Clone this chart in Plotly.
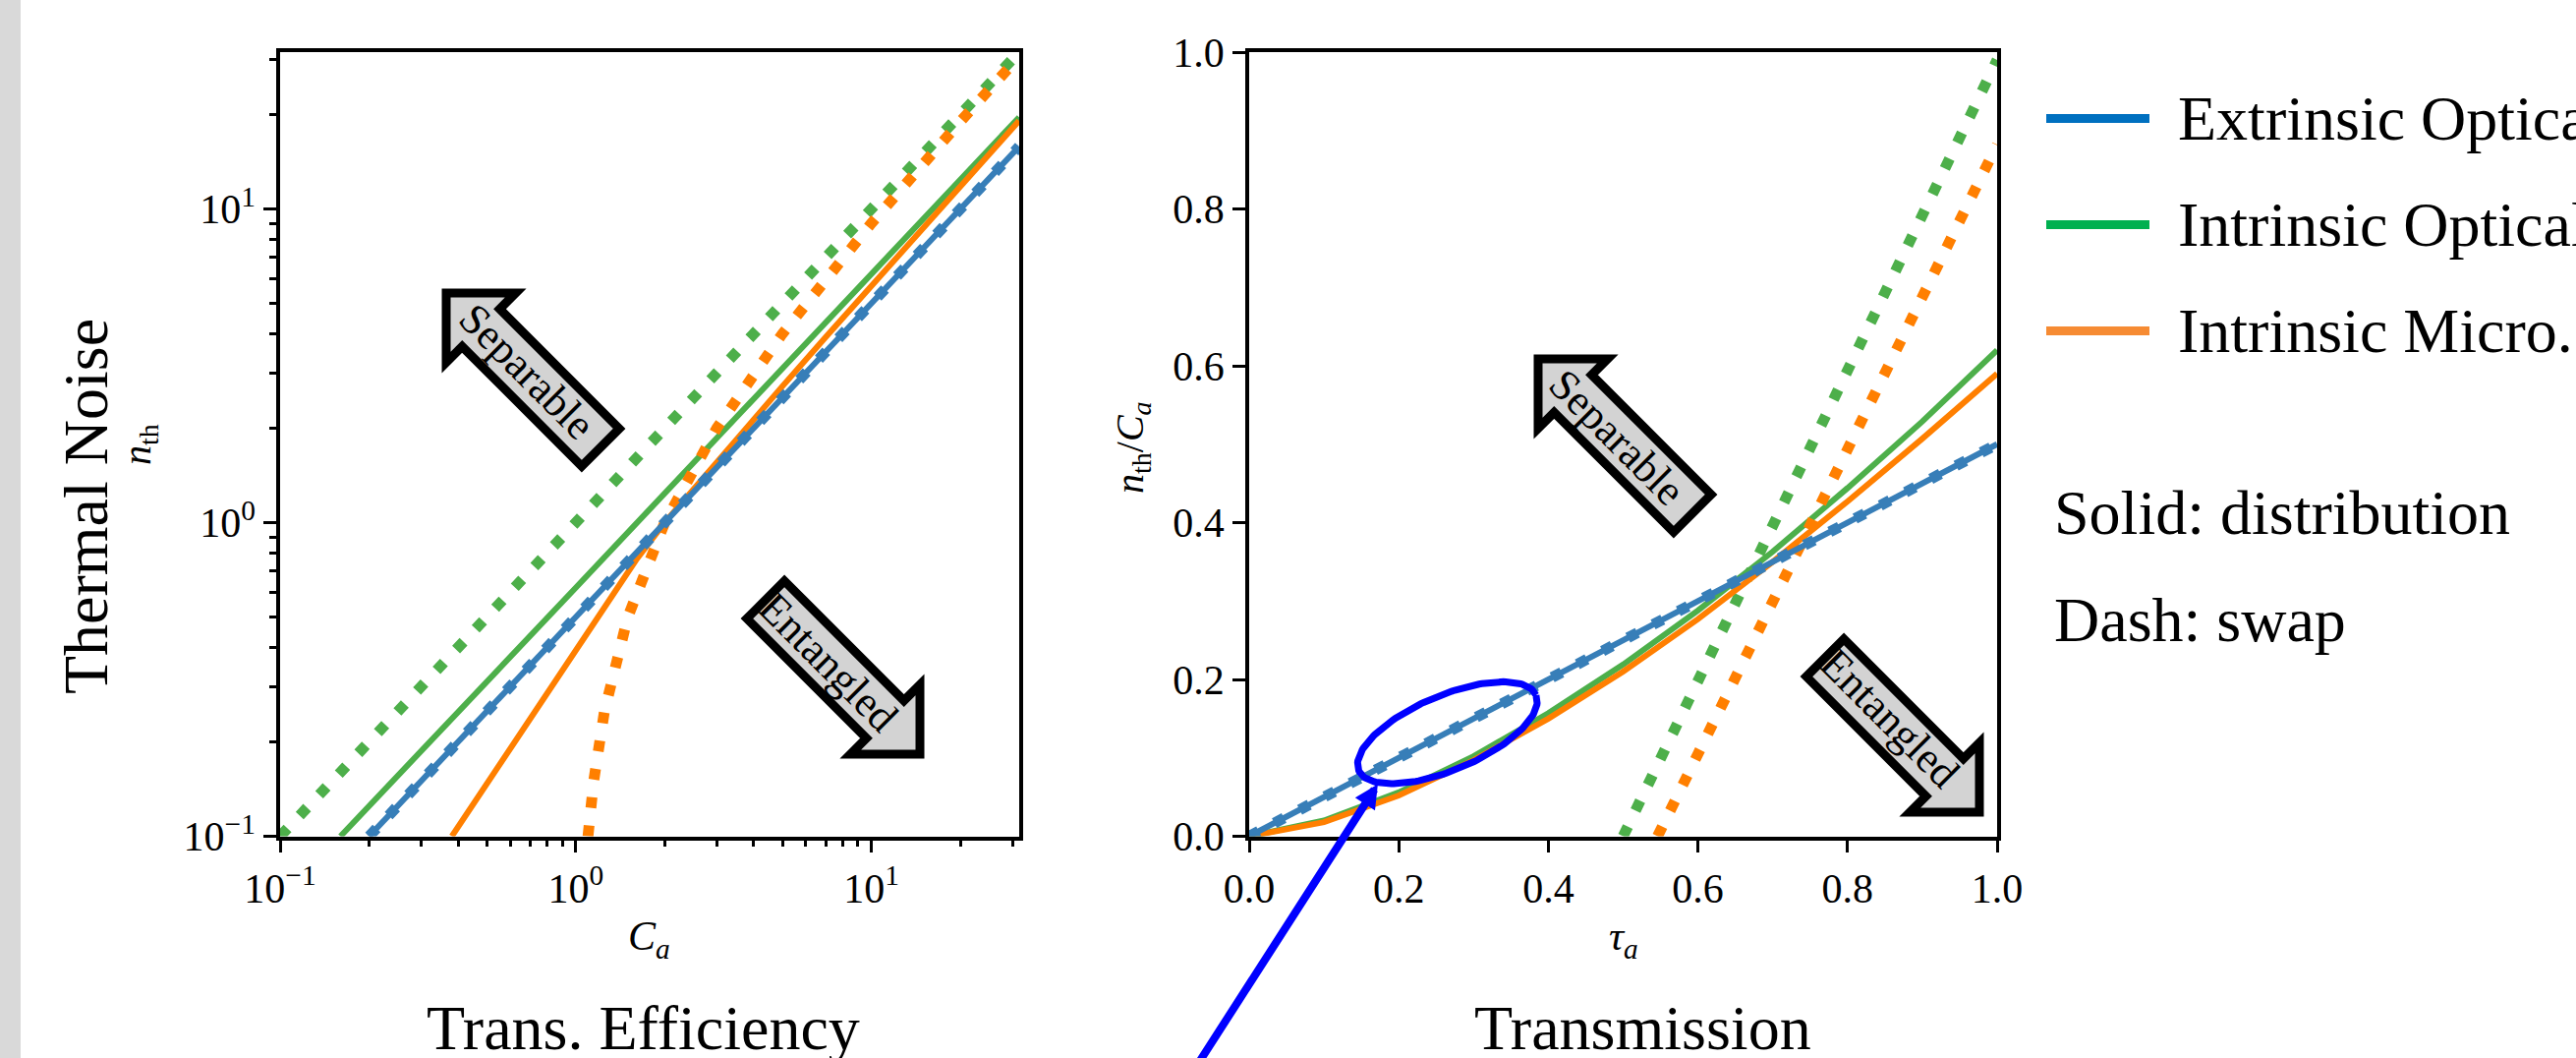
import math
import plotly.graph_objects as go

W, H = 2621, 1076

# ---------------- data: left panel (log-log) ----------------
ca_ext = [0.2, 0.5, 1.0, 2.0, 5.0, 10.0, 20.0, 31.6]
nth_ext = [0.1, 0.25, 0.5, 1.0, 2.5, 5.0, 10.0, 15.8]

ca_int_opt = [0.16, 0.3, 1.0, 3.0, 10.0, 31.6]
nth_int_opt = [0.1, 0.186, 0.62, 1.86, 6.2, 19.6]
ca_int_opt_swap = [0.1, 0.3, 1.0, 3.0, 10.0, 31.6]
nth_int_opt_swap = [0.1, 0.3, 1.0, 3.0, 10.0, 31.6]

ca_int_mic = [0.381, 0.5, 0.7, 1.0, 1.3, 1.6, 2.0, 2.5, 3.0, 4.0, 5.0, 7.0,
              10.0, 15.0, 20.0, 31.6]
nth_int_mic = [0.1, 0.147, 0.237, 0.39, 0.57, 0.76, 1.0, 1.28, 1.56, 2.14, 2.72,
               3.9, 5.7, 8.75, 11.8, 19.1]
ca_int_mic_swap = [1.1, 1.15, 1.25, 1.5, 2.0, 3.0, 5.0, 10.0, 20.0, 31.6]
nth_int_mic_swap = [0.1, 0.15, 0.25, 0.5, 1.0, 2.0, 4.0, 9.0, 19.0, 30.6]

# ---------------- data: right panel ----------------
tau = [0.0, 0.1, 0.2, 0.3, 0.4, 0.5, 0.6, 0.7, 0.8, 0.9, 1.0]
ratio_ext = [0.0, 0.05, 0.10, 0.15, 0.20, 0.25, 0.30, 0.35, 0.40, 0.45, 0.50]
ratio_int_opt = [0.0, 0.020, 0.056, 0.102, 0.157, 0.219, 0.288, 0.363, 0.444, 0.529, 0.62]
ratio_int_mic = [0.0, 0.018, 0.052, 0.097, 0.150, 0.210, 0.277, 0.350, 0.427, 0.507, 0.59]
tau_swap_opt = [0.5, 0.75, 1.0]
ratio_swap_opt = [0.0, 0.495, 0.99]
tau_swap_mic = [0.546, 0.75, 1.0]
ratio_swap_mic = [0.0, 0.396, 0.882]

# ---------------- ticks / labels ----------------
log_ticks = [0.1, 1, 10]
log_ticktext = ["10<sup>−1</sup>", "10<sup>0</sup>", "10<sup>1</sup>"]
log_minor = [0.2, 0.3, 0.4, 0.5, 0.6, 0.7, 0.8, 0.9,
             2, 3, 4, 5, 6, 7, 8, 9, 20, 30]
lin_ticks = [0.0, 0.2, 0.4, 0.6, 0.8, 1.0]
lin_ticktext = ["0.0", "0.2", "0.4", "0.6", "0.8", "1.0"]

legend_names = ["Extrinsic Optical", "Intrinsic Optical", "Intrinsic Micro."]
legend_colors = ["#0070C0", "#00B050", "#F68B33"]

C_BLUE, C_GREEN, C_ORANGE = "#377eb8", "#4daf4a", "#ff7f00"
SOLID_W = 6
DOT_W = 11
DOT = "11px,18px"

SERIF = "Liberation Serif"

# ---------------- layout geometry (pixels) ----------------
L_X0, L_X1 = 285, 1037
R_X0, R_X1 = 1271, 2032
Y_TOP, Y_BOT = 53, 850.5


def px2paper(x, y):
    return x / W, 1 - y / H


fig = go.Figure()


def add_line(x, y, color, width, dash, xa, ya):
    fig.add_trace(go.Scatter(x=x, y=y, mode="lines",
                             line=dict(color=color, width=width, dash=dash),
                             xaxis=xa, yaxis=ya, showlegend=False,
                             hoverinfo="skip"))


# left panel
add_line(ca_int_opt, nth_int_opt, C_GREEN, SOLID_W, "solid", "x", "y")
add_line(ca_int_opt_swap, nth_int_opt_swap, C_GREEN, DOT_W, DOT, "x", "y")
add_line(ca_int_mic, nth_int_mic, C_ORANGE, SOLID_W, "solid", "x", "y")
add_line(ca_int_mic_swap, nth_int_mic_swap, C_ORANGE, DOT_W, DOT, "x", "y")
add_line(ca_ext, nth_ext, C_BLUE, SOLID_W, "solid", "x", "y")
add_line(ca_ext, nth_ext, C_BLUE, DOT_W, DOT, "x", "y")

# right panel
add_line(tau, ratio_int_opt, C_GREEN, SOLID_W, "solid", "x2", "y2")
add_line(tau_swap_opt, ratio_swap_opt, C_GREEN, DOT_W, DOT, "x2", "y2")
add_line(tau, ratio_int_mic, C_ORANGE, SOLID_W, "solid", "x2", "y2")
add_line(tau_swap_mic, ratio_swap_mic, C_ORANGE, DOT_W, DOT, "x2", "y2")
add_line(tau, ratio_ext, C_BLUE, SOLID_W, "solid", "x2", "y2")
add_line(tau, ratio_ext, C_BLUE, DOT_W, DOT, "x2", "y2")

# highlight ellipse (right panel, centre in data coords, size in pixels)
ell_cx, ell_cy = 0.265, 0.132
ell_a, ell_b, ell_ang = 98, 38, math.radians(23)
sx = R_X1 - R_X0
sy = Y_BOT - Y_TOP
ex, ey = [], []
for i in range(181):
    t = 2 * math.pi * i / 180
    dx = ell_a * math.cos(t) * math.cos(ell_ang) - ell_b * math.sin(t) * math.sin(ell_ang)
    dy = ell_a * math.cos(t) * math.sin(ell_ang) + ell_b * math.sin(t) * math.cos(ell_ang)
    ex.append(ell_cx + dx / sx)
    ey.append(ell_cy + dy / sy)
fig.add_trace(go.Scatter(x=ex, y=ey, mode="lines", line=dict(color="#0000ff", width=7),
                         xaxis="x2", yaxis="y2", showlegend=False, hoverinfo="skip"))

axis_common = dict(showline=True, mirror=True, linecolor="black", linewidth=3.5,
                   ticks="outside", ticklen=13, tickwidth=3, tickcolor="black",
                   showgrid=False, zeroline=False, automargin=False,
                   tickfont=dict(family=SERIF, size=42, color="black"))
yd = [1 - Y_BOT / H, 1 - Y_TOP / H]

fig.update_layout(
    template="none",
    width=W, height=H, autosize=False,
    margin=dict(l=0, r=0, t=0, b=0, pad=0, autoexpand=False),
    paper_bgcolor="white", plot_bgcolor="white", showlegend=False,
    xaxis=dict(type="log", range=[-1, 1.5], domain=[L_X0 / W, L_X1 / W], anchor="y",
               tickvals=log_ticks, ticktext=log_ticktext,
               minor=dict(ticks="outside", ticklen=7, tickwidth=2.5, tickcolor="black",
                          tickvals=log_minor, showgrid=False),
               **axis_common),
    yaxis=dict(type="log", range=[-1, 1.5], domain=yd, anchor="x",
               tickvals=log_ticks, ticktext=log_ticktext,
               minor=dict(ticks="outside", ticklen=7, tickwidth=2.5, tickcolor="black",
                          tickvals=log_minor, showgrid=False),
               **axis_common),
    xaxis2=dict(range=[0, 1], domain=[R_X0 / W, R_X1 / W], anchor="y2",
                tickvals=lin_ticks, ticktext=lin_ticktext, **axis_common),
    yaxis2=dict(range=[0, 1], domain=yd, anchor="x2",
                tickvals=lin_ticks, ticktext=lin_ticktext, **axis_common),
)

shapes = []
annotations = []

# left grey strip
shapes.append(dict(type="rect", xref="paper", yref="paper", x0=0, x1=21 / W, y0=0, y1=1,
                   fillcolor="#d9d9d9", line=dict(width=0), layer="below"))


def box_arrow(tip, direction, length=222, body=54, head=100, head_len=50):
    ux, uy = direction
    n = math.hypot(ux, uy)
    ux, uy = ux / n, uy / n
    qx, qy = -uy, ux
    loc = [(0, 0), (-head_len, head / 2), (-head_len, body / 2), (-length, body / 2),
           (-length, -body / 2), (-head_len, -body / 2), (-head_len, -head / 2)]
    pts = [(tip[0] + a * ux + b * qx, tip[1] + a * uy + b * qy) for a, b in loc]
    path = "M " + " L ".join("%.5f,%.5f" % px2paper(x, y) for x, y in pts) + " Z"
    return dict(type="path", xref="paper", yref="paper", path=path,
                fillcolor="#d3d3d3", line=dict(color="black", width=9))


ARROWS = [
    # tip (px), direction, label, label centre (px)
    ((454, 298), (-1, -1), "Separable", (536, 377)),
    ((936, 767), (1, 1), "Entangled", (843, 673)),
    ((1565, 365), (-1, -1), "Separable", (1645, 444)),
    ((2014, 826), (1, 1), "Entangled", (1923, 730)),
]
for tip, d, lab, c in ARROWS:
    shapes.append(box_arrow(tip, d))
    x, y = px2paper(*c)
    annotations.append(dict(xref="paper", yref="paper", x=x, y=y, text=lab, showarrow=False,
                            textangle=45, xanchor="center", yanchor="middle",
                            font=dict(family=SERIF, size=44, color="black")))

# blue arrow pointing to the ellipse
annotations.append(dict(xref="x2", yref="y2", axref="x2", ayref="y2",
                        x=0.172, y=0.0665, ax=-0.075, ay=-0.30, text="",
                        showarrow=True, arrowhead=2, arrowsize=0.6, arrowwidth=8,
                        arrowcolor="#0000ff", standoff=0))


def txt(x, y, s, size, angle=0, xanchor="center"):
    px, py = px2paper(x, y)
    annotations.append(dict(xref="paper", yref="paper", x=px, y=py, text=s, showarrow=False,
                            textangle=angle, xanchor=xanchor, yanchor="middle",
                            font=dict(family=SERIF, size=size, color="black")))


txt(660, 955, "<i>C</i><sub><i>a</i></sub>", 42)
txt(1652, 955, "<i>τ</i><sub><i>a</i></sub>", 42)
txt(142, 452, "<i>n</i><sub>th</sub>", 40, angle=-90)
txt(1152, 455, "<i>n</i><sub>th</sub>/<i>C</i><sub><i>a</i></sub>", 40, angle=-90)
txt(87, 515, "Thermal Noise", 64, angle=-90)
txt(654, 1045, "Trans. Efficiency", 64)
txt(1672, 1045, "Transmission", 64)

# legend
leg_y = [120.5, 228.5, 336.5]
for name, col, yy in zip(legend_names, legend_colors, leg_y):
    x0, y0 = px2paper(2082, yy)
    x1, _ = px2paper(2187, yy)
    shapes.append(dict(type="line", xref="paper", yref="paper", x0=x0, x1=x1, y0=y0, y1=y0,
                       line=dict(color=col, width=9)))
    txt(2214, yy, name, 64, xanchor="left")
txt(2088, 521, "Solid: distribution", 64, xanchor="left")
txt(2088, 630, "Dash: swap", 64, xanchor="left")

fig.update_layout(shapes=shapes, annotations=annotations)
fig.write_html("out.html",
               config={"displayModeBar": False},
               post_script="document.body.style.margin='0px';"
                           "document.body.style.overflow='hidden';")
